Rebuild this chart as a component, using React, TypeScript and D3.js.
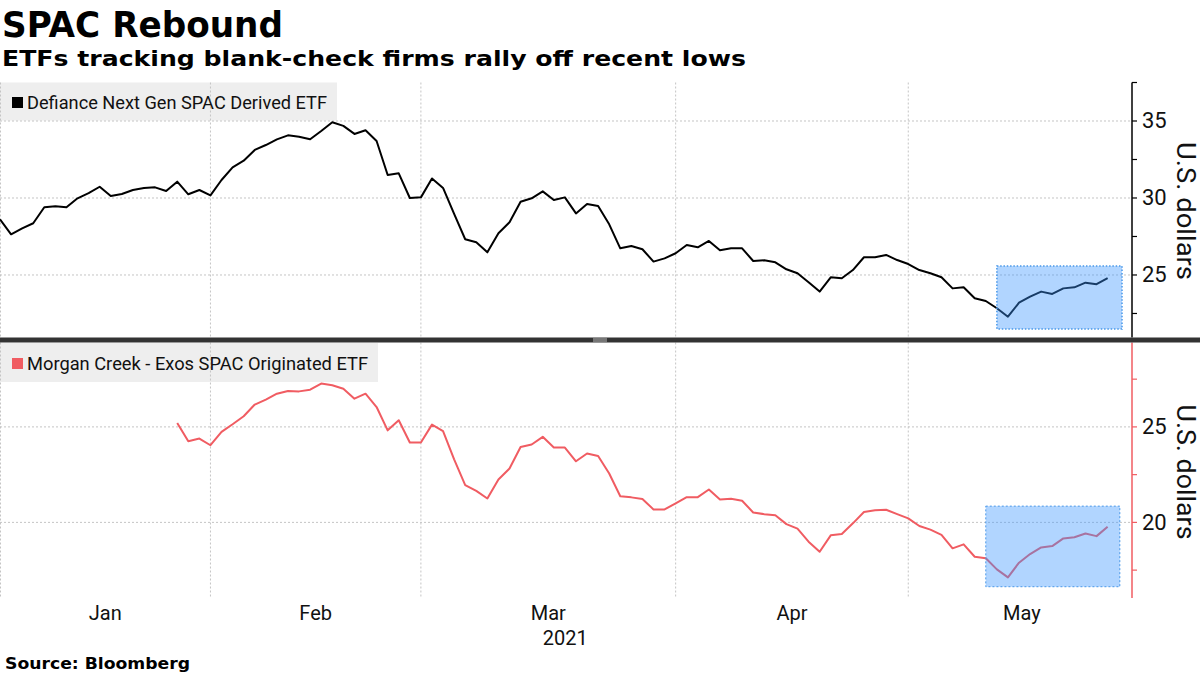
import React from "react";
import * as d3 from "d3";

// ---- Data (trading-day index 0 = Jan 4 2021) ----
const defianceValues: number[] = [
  28.62, 27.64, 28.03, 28.36, 29.4, 29.46, 29.4, 29.98, 30.31, 30.73,
  30.13, 30.26, 30.52, 30.65, 30.69, 30.45, 31.06, 30.24, 30.52, 30.17,
  31.17, 31.99, 32.42, 33.12, 33.44, 33.81, 34.07, 33.98, 33.81, 34.35,
  34.92, 34.68, 34.16, 34.4, 33.7, 31.49, 31.6, 30.0, 30.04, 31.27,
  30.65, 28.97, 27.32, 27.12, 26.47, 27.71, 28.42, 29.76, 29.98, 30.43,
  29.87, 30.04, 29.0, 29.61, 29.48, 28.29, 26.73, 26.88, 26.67, 25.87,
  26.08, 26.41, 26.95, 26.8, 27.21, 26.6, 26.73, 26.73, 25.91, 25.95,
  25.82, 25.37, 25.11, 24.53, 23.92, 24.85, 24.79, 25.32, 26.15, 26.15,
  26.3, 25.97, 25.71, 25.32, 25.11, 24.85, 24.13, 24.2, 23.49, 23.31,
  22.84, 22.29, 23.2, 23.59, 23.92, 23.77, 24.13, 24.2, 24.5, 24.4,
  24.79,
];

const morganStartIndex = 16;
const morganValues: number[] = [
  25.21, 24.25, 24.39, 24.04, 24.74, 25.14, 25.56, 26.17, 26.43, 26.74,
  26.88, 26.86, 26.95, 27.27, 27.18, 27.0, 26.48, 26.74, 26.04, 24.82,
  25.35, 24.18, 24.18, 25.12, 24.78, 23.3, 21.95, 21.65, 21.25, 22.25,
  22.82, 23.95, 24.08, 24.48, 23.92, 23.92, 23.2, 23.61, 23.48, 22.56,
  21.37, 21.31, 21.22, 20.68, 20.68, 20.99, 21.32, 21.32, 21.72, 21.2,
  21.24, 21.13, 20.52, 20.43, 20.37, 19.91, 19.67, 18.99, 18.46, 19.32,
  19.39, 19.95, 20.54, 20.63, 20.66, 20.43, 20.21, 19.81, 19.62, 19.35,
  18.64, 18.85, 18.2, 18.12, 17.54, 17.12, 17.89, 18.34, 18.69, 18.76,
  19.16, 19.22, 19.42, 19.28, 19.77,
];

const monthLabels = ["Jan", "Feb", "Mar", "Apr", "May"];
const monthStarts = [0, 19, 38, 61, 82];
const monthEnds = [19, 38, 61, 82, 102.5];

const topMajorTicks = [25, 30, 35];
const topMinorTicks = [22.5, 27.5, 32.5, 37.5];
const botMajorTicks = [20, 25];
const botMinorTicks = [17.5, 22.5, 27.5];

// highlight boxes (data coordinates)
const topBox = { x0: 90.0, x1: 101.3, y0: 21.49, y1: 25.58 };
const botBox = { x0: 89.0, x1: 101.1, y0: 16.63, y1: 20.85 };

const FONT = "'Liberation Sans Narrow', Roboto, 'Open Sans', sans-serif";
const BOLD_FONT = "'DejaVu Sans', 'Liberation Sans', sans-serif";
const RED = "#f05c62";

export default function App() {
  const W = 1200;
  const H = 675;
  const axisX = 1132;

  const x = d3.scaleLinear().domain([0, 102.2]).range([0, axisX]);
  const yTop = d3.scaleLinear().domain([20.94, 37.5]).range([337.5, 82.5]);
  const yBot = d3.scaleLinear().domain([16.04, 29.42]).range([598, 342.5]);

  const topLine = d3
    .line<number>()
    .x((_, i) => x(i))
    .y((d) => yTop(d))(defianceValues) as string;
  const botLine = d3
    .line<number>()
    .x((_, i) => x(i + morganStartIndex))
    .y((d) => yBot(d))(morganValues) as string;

  const grid = "#c4c4c4";

  const vGrid = (y0: number, y1: number, key: string) =>
    monthStarts.map((m, i) => (
      <line
        key={key + i}
        x1={Math.max(0.5, x(m))}
        x2={Math.max(0.5, x(m))}
        y1={y0}
        y2={y1}
        stroke={grid}
        strokeDasharray="2,2"
        strokeWidth={1}
      />
    ));

  return (
    <svg
      width={W}
      height={H}
      style={{ position: "absolute", left: 0, top: 0, background: "#fff" }}
    >
      <rect x={0} y={0} width={W} height={H} fill="#fff" />
      {/* Titles */}
      <text x={2} y={37} fontFamily={BOLD_FONT} fontWeight="bold" fontSize={36} textLength={281} lengthAdjust="spacingAndGlyphs">
        SPAC Rebound
      </text>
      <text x={2} y={66} fontFamily={BOLD_FONT} fontWeight="bold" fontSize={22} textLength={744} lengthAdjust="spacingAndGlyphs">
        ETFs tracking blank-check firms rally off recent lows
      </text>

      {/* Legend backgrounds */}
      <rect x={0} y={82.5} width={337} height={38} fill="#eeeeee" />
      <rect x={0} y={343} width={378} height={39} fill="#eeeeee" />

      {/* Top panel grid */}
      {topMajorTicks.map((t) => (
        <line key={"tg" + t} x1={0} x2={axisX} y1={yTop(t)} y2={yTop(t)} stroke={grid} strokeDasharray="2,2" />
      ))}
      {vGrid(82.5, 337.5, "tv")}

      {/* Bottom panel grid */}
      {botMajorTicks.map((t) => (
        <line key={"bg" + t} x1={0} x2={axisX} y1={yBot(t)} y2={yBot(t)} stroke={grid} strokeDasharray="2,2" />
      ))}
      {vGrid(342.5, 598, "bv")}

      {/* Legends */}
      <rect x={12} y={97} width={11} height={11} fill="#000" />
      <text x={27} y={109} fontFamily={FONT} fontSize={18} fill="#111" textLength={300} lengthAdjust="spacingAndGlyphs">
        Defiance Next Gen SPAC Derived ETF
      </text>
      <rect x={12} y={358} width={11} height={11} fill={RED} />
      <text x={27} y={369.5} fontFamily={FONT} fontSize={18} fill="#111" textLength={341} lengthAdjust="spacingAndGlyphs">
        Morgan Creek - Exos SPAC Originated ETF
      </text>

      {/* Lines */}
      <path d={topLine} fill="none" stroke="#000" strokeWidth={2} strokeLinejoin="round" />
      <path d={botLine} fill="none" stroke={RED} strokeWidth={2} strokeLinejoin="round" />

      {/* Highlight boxes */}
      <rect
        x={x(topBox.x0)}
        y={yTop(topBox.y1)}
        width={x(topBox.x1) - x(topBox.x0)}
        height={yTop(topBox.y0) - yTop(topBox.y1)}
        fill="rgb(60,150,255)"
        fillOpacity={0.4}
        stroke="#4a98e8"
        strokeWidth={1.5}
        strokeDasharray="1.5,1.8"
      />
      <rect
        x={x(botBox.x0)}
        y={yBot(botBox.y1)}
        width={x(botBox.x1) - x(botBox.x0)}
        height={yBot(botBox.y0) - yBot(botBox.y1)}
        fill="rgb(60,150,255)"
        fillOpacity={0.4}
        stroke="#4a98e8"
        strokeWidth={1}
        strokeDasharray="2,2"
      />

      {/* Top axis */}
      <line x1={axisX} x2={axisX} y1={82.5} y2={337.5} stroke="#000" strokeWidth={1.5} />
      {topMajorTicks.concat(topMinorTicks).map((t) => (
        <line key={"tt" + t} x1={axisX} x2={axisX + 5} y1={yTop(t)} y2={yTop(t)} stroke="#000" strokeWidth={1.2} />
      ))}
      {topMajorTicks.map((t) => (
        <text key={"tl" + t} x={axisX + 10} y={yTop(t)} dominantBaseline="central" fontFamily={FONT} fontSize={22} fill="#111">
          {t}
        </text>
      ))}
      <text transform="translate(1185,211) rotate(90)" textAnchor="middle" dominantBaseline="central" fontFamily={FONT} fontSize={25} fill="#111" textLength={138} lengthAdjust="spacingAndGlyphs">
        U.S. dollars
      </text>

      {/* Bottom axis */}
      <line x1={axisX} x2={axisX} y1={342.5} y2={598} stroke={RED} strokeWidth={1.5} />
      {botMajorTicks.concat(botMinorTicks).map((t) => (
        <line key={"bt" + t} x1={axisX} x2={axisX + 5} y1={yBot(t)} y2={yBot(t)} stroke={RED} strokeWidth={1.2} />
      ))}
      {botMajorTicks.map((t) => (
        <text key={"bl" + t} x={axisX + 10} y={yBot(t)} dominantBaseline="central" fontFamily={FONT} fontSize={22} fill="#111">
          {t}
        </text>
      ))}
      <text transform="translate(1185,472) rotate(90)" textAnchor="middle" dominantBaseline="central" fontFamily={FONT} fontSize={25} fill="#111" textLength={135} lengthAdjust="spacingAndGlyphs">
        U.S. dollars
      </text>

      {/* Panel separator */}
      <rect x={0} y={337.5} width={W} height={5} fill="#333333" />
      <line x1={593} x2={607} y1={339} y2={339} stroke="#bbb" strokeWidth={1} />
      <line x1={593} x2={607} y1={341} y2={341} stroke="#bbb" strokeWidth={1} />

      {/* X axis labels */}
      {monthLabels.map((m, i) => (
        <text
          key={m}
          x={x((monthStarts[i] + monthEnds[i]) / 2)}
          y={620}
          textAnchor="middle"
          fontFamily={FONT}
          fontSize={20}
          fill="#111"
        >
          {m}
        </text>
      ))}
      <text x={x((monthStarts[2] + monthEnds[2]) / 2) + 17} y={645} textAnchor="middle" fontFamily={FONT} fontSize={20} fill="#111">
        2021
      </text>

      {/* Source */}
      <text x={5} y={669} fontFamily={BOLD_FONT} fontWeight="bold" fontSize={16} textLength={185} lengthAdjust="spacingAndGlyphs">
        Source: Bloomberg
      </text>
    </svg>
  );
}
